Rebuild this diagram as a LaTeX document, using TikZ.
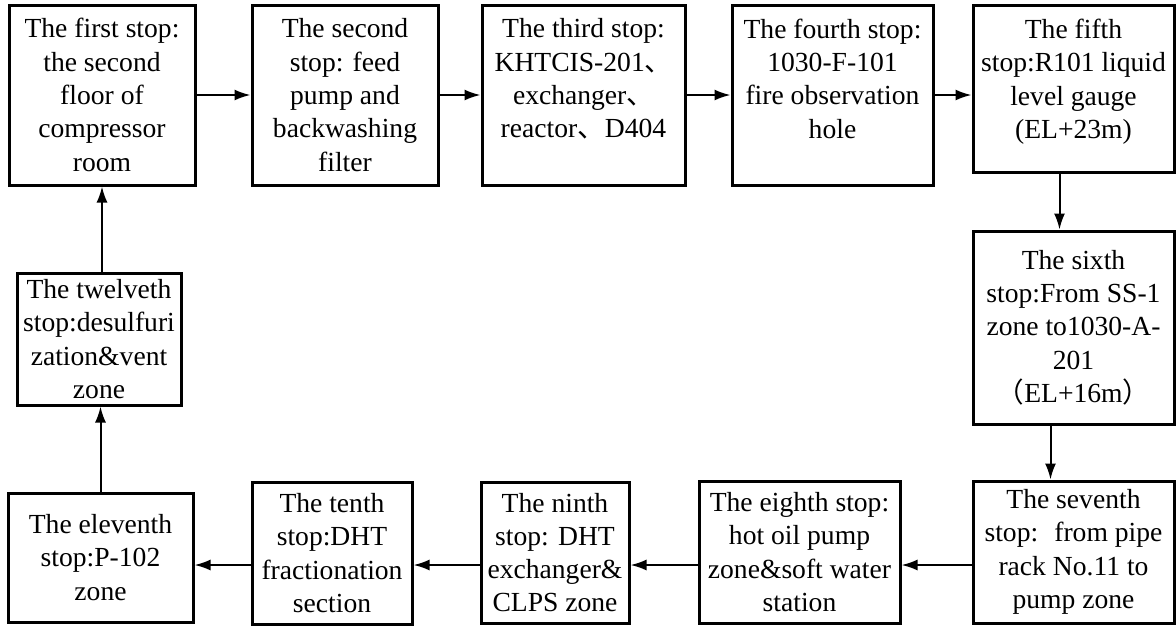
\documentclass[tikz,border=0pt]{standalone}
\usepackage{fontspec}
\setmainfont{Liberation Serif}
\newfontfamily\cjk{Noto Sans CJK SC}
\usetikzlibrary{arrows.meta,positioning,calc}
\newcommand{\dunhao}{{\cjk 、}}
\begin{document}
\begin{tikzpicture}[x=1pt,y=-1pt,
    stopbox/.style={draw,line width=3pt,align=center,inner sep=0pt,
        font=\fontsize{27.6}{33.3}\selectfont},
    flow/.style={line width=2pt,-{Latex[length=16pt,width=11pt]}}]
    \useasboundingbox (0,0) rectangle (1176,625);
    {
    % Top row: stops one to five
    \node[stopbox,minimum width=186pt,minimum height=180pt] (s1) at (102,95)
        {The first stop:\\the second\\floor of\\compressor\\room};%
    \node[stopbox,minimum width=186pt,minimum height=180pt] (s2) at (345,95)
        {The second\\stop: feed\\pump and\\backwashing\\filter};%
    \node[stopbox,minimum width=203pt,minimum height=180pt] (s3) at (583.5,95)
        {The third stop:\\KHTCIS-201\dunhao\\exchanger\dunhao\\reactor\dunhao D404\\\mbox{}};%
    \node[stopbox,minimum width=201pt,minimum height=180pt] (s4) at (832.5,95)
        {The fourth stop:\\1030-F-101\\fire observation\\hole\\\mbox{}};%
    \node[stopbox,minimum width=201pt,minimum height=167pt] (s5) at (1073.5,88.5)
        {The fifth\\stop:R101 liquid\\level gauge\\(EL+23m)\\[-14pt]\mbox{}};%

    % Right column: stop six
    \node[stopbox,minimum width=201pt,minimum height=193pt] (s6) at (1073.5,327.5)
        {The sixth\\stop:From SS-1\\zone to1030-A-\\201\\{\cjk （}EL+16m{\cjk ）}};%

    % Bottom row: stops seven to eleven
    \node[stopbox,minimum width=201pt,minimum height=142pt] (s7) at (1073.5,552)
        {The seventh\\stop:~ from pipe\\rack No.11 to\\pump zone};%
    \node[stopbox,minimum width=201pt,minimum height=142pt] (s8) at (799.5,552)
        {The eighth stop:\\hot oil pump\\zone\&soft water\\station};%
    \node[stopbox,minimum width=148pt,minimum height=141pt] (s9) at (555,552.5)
        {The ninth\\stop: DHT\\exchanger\&\\CLPS zone};%
    \node[stopbox,minimum width=160pt,minimum height=142pt] (s10) at (332,553)
        {The tenth\\stop:DHT\\fractionation\\section};%
    \node[stopbox,minimum width=185pt,minimum height=129pt] (s11) at (100.5,557.5)
        {The eleventh\\stop:P-102\\zone};%

    % Left column: stop twelve
    \node[stopbox,minimum width=164pt,minimum height=132pt] (s12) at (99,339)
        {The twelveth\\stop:desulfuri\\zation\&vent\\zone};%

    % Arrows along the top row
    \draw[flow] (s1.east) -- (s1.east -| s2.west);%
    \draw[flow] (s2.east) -- (s2.east -| s3.west);%
    \draw[flow] (s3.east) -- (s3.east -| s4.west);%
    \draw[flow] (s4.east) -- (s4.east -| s5.west);%

    % Arrows down the right column
    \draw[flow] ([xshift=-14pt]s5.south) -- ([xshift=-14pt]s5.south |- s6.north);%
    \draw[flow] ([xshift=-23pt]s6.south) -- ([xshift=-23pt]s6.south |- s7.north);%

    % Arrows along the bottom row
    \draw[flow] ([yshift=-13pt]s7.west) -- ([yshift=-13pt]s7.west -| s8.east);%
    \draw[flow] ([yshift=-13pt]s8.west) -- ([yshift=-13pt]s8.west -| s9.east);%
    \draw[flow] ([yshift=-12.5pt]s9.west) -- ([yshift=-12.5pt]s9.west -| s10.east);%
    \draw[flow] ([yshift=-12pt]s10.west) -- ([yshift=-12pt]s10.west -| s11.east);%

    % Arrows up the left column
    \draw[flow] (s11.north) -- (s11.north |- s12.south);%
    \draw[flow] (s1.south |- s12.north) -- (s1.south);%
    }
\end{tikzpicture}
\end{document}
